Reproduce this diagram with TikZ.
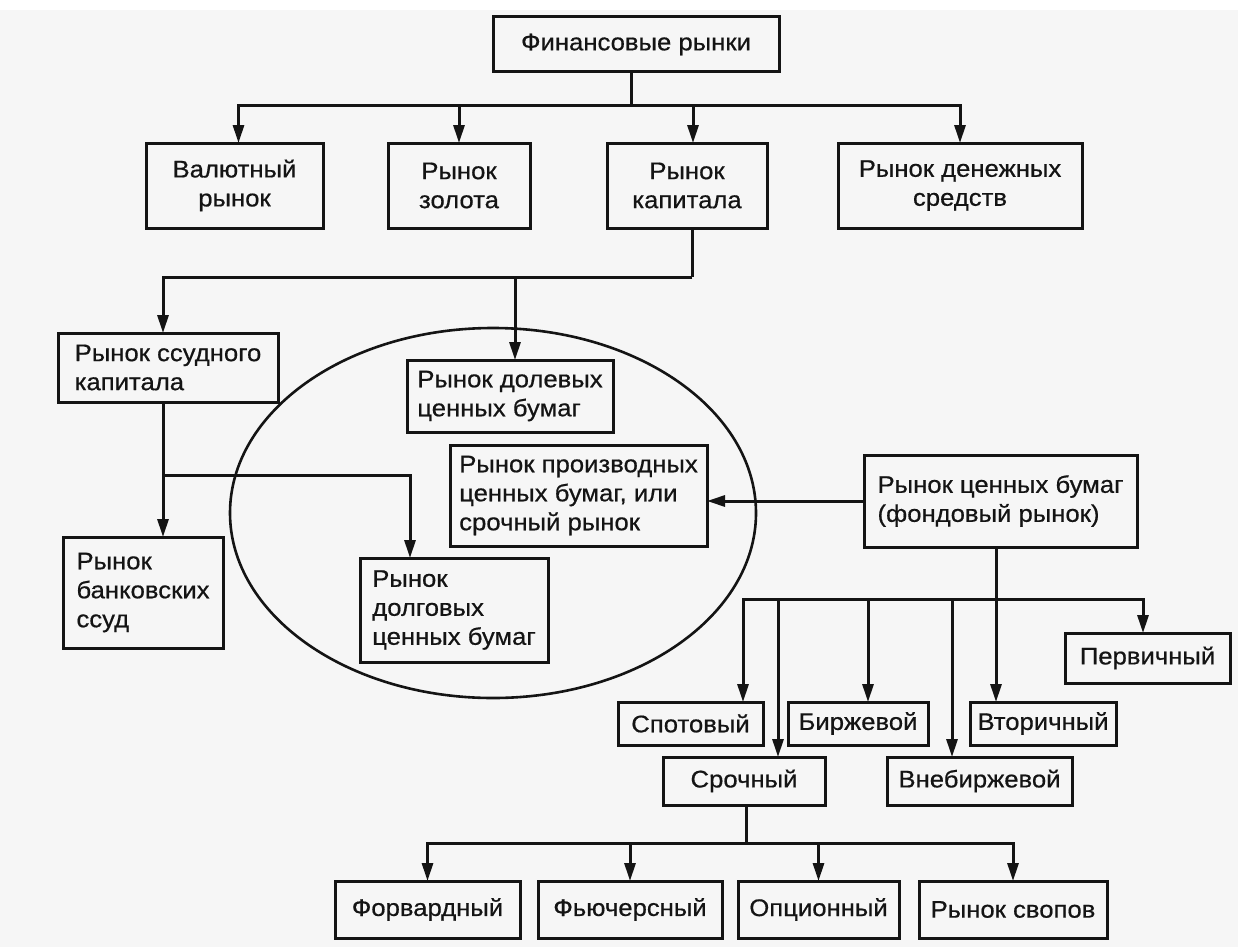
\documentclass[tikz,border=0pt]{standalone}
\usepackage{fontspec}
\setmainfont{Liberation Sans}[FakeStretch=1.07,FakeBold=0.6]
\usetikzlibrary{arrows.meta,shapes.geometric}
\definecolor{bg}{RGB}{246,246,246}
\definecolor{ink}{RGB}{20,20,20}
\tikzset{
  box/.style={draw=ink, line width=3pt, inner sep=0pt, outer sep=0pt,
    font=\fontsize{24}{29}\selectfont, align=center, text=ink},
  lbox/.style={box, align=left},
  conn/.style={draw=ink, line width=3pt},
  arr/.style={conn, -{Triangle[length=18pt,width=11pt]}},
  oval/.style={draw=ink, line width=2.6pt, ellipse, inner sep=0pt},
}
\begin{document}
\begin{tikzpicture}[x=1pt,y=-1pt]
\fill[bg] (0,0) rectangle (1238,947);
\fill[white] (0,0) rectangle (1238,10);
\useasboundingbox (0,0) rectangle (1238,947);

% ellipse
\node[oval, minimum width=526pt, minimum height=370pt] (ell) at (493,513) {};

% top
\node[box, minimum width=286pt, minimum height=55pt] (fin) at (636,44.5) {Финансовые рынки};
\node[box, minimum width=177pt, minimum height=85pt] (val) at (234.5,185.5) {Валютный\\рынок};
\node[box, minimum width=142pt, minimum height=85pt] (zol) at (459,185.5) {Рынок\\золота};
\node[box, minimum width=160pt, minimum height=85pt] (kap) at (687,185.5) {Рынок\\капитала};
\node[box, minimum width=244pt, minimum height=85pt] (den) at (960,185.5) {Рынок денежных\\средств};

% middle
\node[lbox, minimum width=220pt, minimum height=69pt] (ssud) at (168,367.5) {Рынок ссудного\\капитала};
\node[lbox, minimum width=160pt, minimum height=111pt] (bank) at (143,592.5) {Рынок\\банковских\\ссуд};
\node[lbox, minimum width=206pt, minimum height=72pt] (dolev) at (510,396) {Рынок долевых\\ценных бумаг};
\node[lbox, minimum width=257pt, minimum height=101pt] (proizv) at (578.5,495.5) {Рынок производных\\ценных бумаг, или\\срочный рынок};
\node[lbox, minimum width=188pt, minimum height=104pt] (dolg) at (454,610) {Рынок\\долговых\\ценных бумаг};
\node[lbox, minimum width=273pt, minimum height=92pt] (cb) at (1000.5,501) {Рынок ценных бумаг\\(фондовый рынок)};

% lower right
\node[box, minimum width=165pt, minimum height=50pt] (perv) at (1147.5,658) {Первичный};
\node[box, minimum width=145pt, minimum height=43pt] (spot) at (690.5,723.5) {Спотовый};
\node[box, minimum width=140pt, minimum height=43pt] (birzh) at (858,723.5) {Биржевой};
\node[box, minimum width=146pt, minimum height=43pt] (vtor) at (1043,723.5) {Вторичный};
\node[box, minimum width=162pt, minimum height=48pt] (sroch) at (744,781) {Срочный};
\node[box, minimum width=185pt, minimum height=48pt] (vneb) at (979.5,781) {Внебиржевой};

% bottom
\node[box, minimum width=185pt, minimum height=57pt] (forv) at (427.5,909.5) {Форвардный};
\node[box, minimum width=184pt, minimum height=57pt] (fyuch) at (630,909.5) {Фьючерсный};
\node[box, minimum width=161pt, minimum height=57pt] (opc) at (818.5,909.5) {Опционный};
\node[box, minimum width=188pt, minimum height=57pt] (svop) at (1013,909.5) {Рынок свопов};

% connectors: top level
\coordinate (b1) at (631,106);
\draw[conn] ([xshift=-5pt]fin.south) -- (b1);
\draw[arr] (b1) -| ([xshift=4pt]val.north);
\draw[arr] (b1) -| (zol.north);
\draw[arr] (b1) -| ([xshift=6pt]kap.north);
\draw[arr] (b1) -| (den.north);

% capital market
\coordinate (b2) at (692,277);
\draw[conn] ([xshift=5pt]kap.south) -- (b2);
\draw[arr] (b2) -| ([xshift=-5pt]ssud.north);
\draw[arr] (b2) -| ([xshift=5pt]dolev.north);

% loan capital
\coordinate (j1) at (163,475);
\draw[arr] ([xshift=-5pt]ssud.south) -- ([xshift=-5pt]ssud.south |- bank.north);
\draw[arr] (j1) -| ([xshift=-44pt]dolg.north);

% securities market
\draw[arr] (cb.west) -- (cb.west -| proizv.east);
\draw[arr] ([xshift=-4.5pt]cb.south) -- ([xshift=-4.5pt]cb.south |- vtor.north);
\coordinate (b3) at (996,599);
\draw[arr] (b3) -| ([xshift=52.5pt]spot.north);
\draw[arr] (b3) -| ([xshift=34pt]sroch.north);
\draw[arr] (b3) -| ([xshift=10pt]birzh.north);
\draw[arr] (b3) -| ([xshift=-27.5pt]vneb.north);
\draw[arr] (b3) -| ([xshift=-4.5pt]perv.north);

% derivatives
\coordinate (b4) at (746,843);
\draw[conn] ([xshift=2pt]sroch.south) -- (b4);
\draw[arr] (b4) -| (forv.north);
\draw[arr] (b4) -| (fyuch.north);
\draw[arr] (b4) -| (opc.north);
\draw[arr] (b4) -| (svop.north);
\end{tikzpicture}
\end{document}
